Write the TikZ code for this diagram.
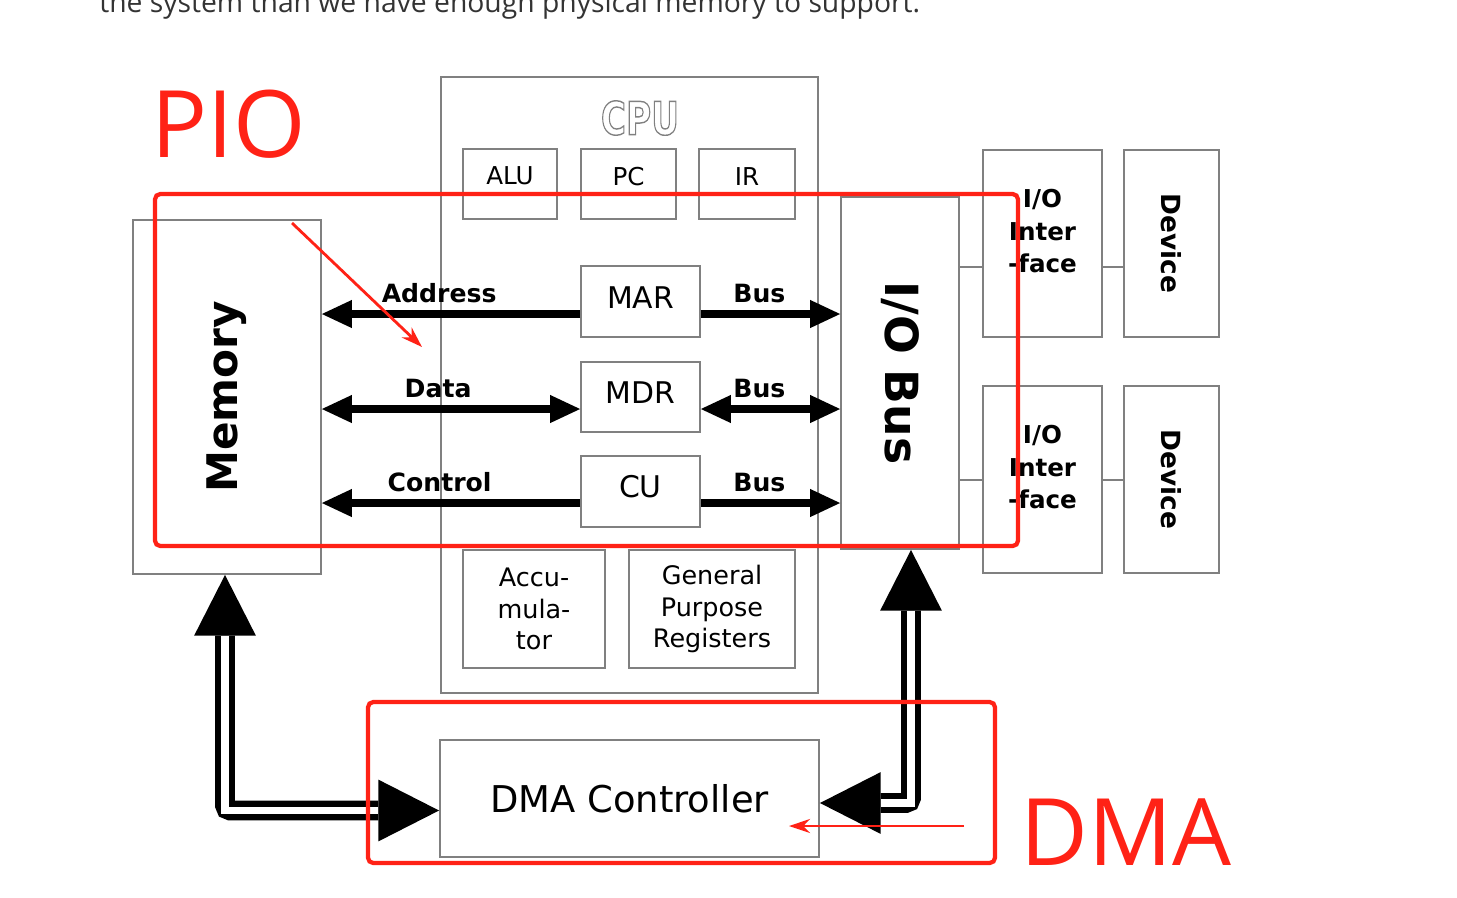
\documentclass[tikz,border=0pt]{standalone}
\usepackage{fontspec}
\usepackage{graphicx}
\usepackage{xcolor}
\usetikzlibrary{arrows.meta,calc}
\setmainfont{DejaVu Sans}
\newfontfamily\annfont{Open Sans}
\definecolor{boxgray}{HTML}{808080}
\definecolor{markred}{HTML}{FF2216}
\definecolor{introgray}{HTML}{333333}
\tikzset{
  box/.style={draw=boxgray, line width=1.1pt, inner sep=0pt, align=center},
  link/.style={draw=boxgray, line width=1.1pt},
  bigtip/.tip={Triangle[length=34.6pt, width=35.2pt, line width=0pt]},
  bustip/.tip={Triangle[length=17pt, width=16pt, line width=0pt]},
}
\begin{document}
\begin{tikzpicture}[x=0.02cm, y=-0.02cm,
    regfont/.style={font=\fontsize{17}{20}\selectfont},
    smallfont/.style={font=\fontsize{14.5}{17.9}\selectfont},
    bus/.style={line width=4.5pt, -{bustip}},
    busboth/.style={line width=4.5pt, {bustip}-{bustip}},
    buslbl/.style={font=\bfseries\fontsize{14.3}{16}\selectfont, anchor=base, inner sep=0pt, yshift=6.8pt},
    dblline/.style={line width=11.3pt, rounded corners=3pt, {bigtip}-{bigtip}},
    dblgap/.style={line width=4.5pt, white, shorten <=34.6pt, shorten >=34.6pt},
    redbox/.style={draw=markred, line width=2.4pt, rounded corners=3pt},
    redarrow/.style={markred, line width=1.6pt, -{Stealth[length=12pt, width=8pt]}},
    redtxt/.style={text=markred, inner sep=0pt, font=\annfont\fontsize{53}{60}\selectfont}]
  \useasboundingbox (0,0) rectangle (1457,897);
  \clip (0,0) rectangle (1457,897);
  \fill[white] (0,0) rectangle (1457,897);
			%   %   %   %   %   %   %   %   %   %   %
			%   Text above the figure
				\node[anchor=base west, inner sep=0pt, text=introgray, font=\annfont\fontsize{16.1}{19}\selectfont] (intro) at (99,12)
				{the system than we have enough physical memory to support.};
			%   %   %   %   %   %   %   %   %   %   %
			%   Memory
				\node[box, minimum width=3.76cm, minimum height=7.08cm,
				label={[rotate=90, font=\bfseries\fontsize{24}{28}\selectfont]center:Memory}] (mem) at (227,397) {};
			%   %   %   %   %   %   %   %   %   %   %
			%   CPU
				\node[box, minimum width=7.54cm, minimum height=12.32cm] (cpu) at (629.5,385) {};
				\node[text=boxgray, font=\bfseries\fontsize{26}{30}\selectfont] (cpulbl) at (640,118)
				{\scalebox{0.75}[1]{\special{pdf:code 1 Tr 0.8 w}CPU\special{pdf:code 0 Tr}}};
				\node[box, minimum width=1.88cm, minimum height=1.4cm, label={[font=\fontsize{14}{16}\selectfont, yshift=4.5pt]center:ALU}] (alu) at (510,184) {};
				\node[box, minimum width=1.9cm, minimum height=1.4cm, label={[font=\fontsize{14}{16}\selectfont, yshift=4.5pt]center:PC}] (pc) at (628.5,184) {};
				\node[box, minimum width=1.92cm, minimum height=1.4cm, label={[font=\fontsize{14}{16}\selectfont, yshift=4.5pt]center:IR}] (ir) at (747,184) {};
				\node[box, minimum width=2.38cm, minimum height=1.42cm, label={[regfont, yshift=2.5pt]center:MAR}] (mar) at (640.5,301.5) {};
				\node[box, minimum width=2.38cm, minimum height=1.4cm, label={[regfont, yshift=2.5pt]center:MDR}] (mdr) at (640.5,397) {};
				\node[box, minimum width=2.38cm, minimum height=1.42cm, label={[regfont, yshift=2.5pt]center:CU}] (cu) at (640.5,491.5) {};
				\node[box, smallfont, minimum width=2.84cm, minimum height=2.36cm] (acc) at (534,609) {Accu-\\mula-\\tor};
				\node[box, smallfont, minimum width=3.32cm, minimum height=2.36cm] (gpr) at (712,609) {General\\Purpose\\Registers};
			%   %   %   %   %   %   %   %   %   %   %
			%   I/O Bus, interfaces, devices
				\node[box, minimum width=2.36cm, minimum height=7.04cm,
				label={[rotate=-90, font=\bfseries\fontsize{26}{30}\selectfont]center:I/O Bus}] (iobus) at (900,373) {};
				\foreach \k/\yc in {1/243.5, 2/479.5}{
				\node[box, minimum width=2.38cm, minimum height=3.74cm,
				label={[align=center, font=\bfseries\fontsize{14}{18.4}\selectfont, yshift=7pt]center:{I/O\\Inter\\-face}}] (if\k) at (1042.5,\yc) {};
				\node[box, minimum width=1.9cm, minimum height=3.74cm,
				label={[rotate=-90, font=\bfseries\fontsize{15}{18}\selectfont]center:Device}] (dev\k) at (1171.5,\yc) {};
				}
				\coordinate (ifa) at ($(if1.west)+(0,23.5)$);
				\coordinate (ifb) at ($(if2.west)+(0,0.5)$);
				\draw[link] (ifa -| iobus.east) -- (ifa);
				\draw[link] (ifb -| iobus.east) -- (ifb);
				\draw[link] (ifa -| if1.east) -- (ifa -| dev1.west);
				\draw[link] (ifb -| if2.east) -- (ifb -| dev2.west);
			%   %   %   %   %   %   %   %   %   %   %
			%   DMA controller
				\node[box, font=\fontsize{21}{25}\selectfont, minimum width=7.58cm, minimum height=2.34cm] (dma) at (629.5,798.5) {DMA Controller};
			%   %   %   %   %   %   %   %   %   %   %
			%   Buses: Memory <-> registers -> I/O Bus
				\coordinate (marL) at ($(mar.west)+(0,12.5)$);
				\coordinate (mdrL) at ($(mdr.west)+(0,12)$);
				\coordinate (cuL) at ($(cu.west)+(0,11.5)$);
				\draw[bus] (marL) -- (marL -| mem.east) node[buslbl, pos=0.546] (addrlbl) {Address};
				\draw[busboth] (mdrL) -- (mdrL -| mem.east) node[buslbl, pos=0.55] (datalbl) {Data};
				\draw[bus] (cuL) -- (cuL -| mem.east) node[buslbl, pos=0.544] (ctrllbl) {Control};
				\draw[bus] (marL -| mar.east) -- (marL -| iobus.west) node[buslbl, pos=0.42] (buslbla) {Bus};
				\draw[busboth] (mdrL -| mdr.east) -- (mdrL -| iobus.west) node[buslbl, pos=0.42] (buslblb) {Bus};
				\draw[bus] (cuL -| cu.east) -- (cuL -| iobus.west) node[buslbl, pos=0.42] (buslblc) {Bus};
			%   %   %   %   %   %   %   %   %   %   %
			%   DMA <-> Memory, DMA <-> I/O Bus
				\coordinate (memdn) at ($(mem.south)+(-2,0)$);
				\coordinate (dmain) at ($(dma.west)+(0,12)$);
				\coordinate (iodn) at ($(iobus.south)+(11,0)$);
				\coordinate (dmaout) at ($(dma.east)+(0,4.5)$);
				\draw[dblline] (memdn) |- (dmain);
				\draw[dblgap] (memdn) |- (dmain);
				\draw[dblline] (iodn) |- (dmaout);
				\draw[dblgap] (iodn) |- (dmaout);
			%   %   %   %   %   %   %   %   %   %   %
			%   Red marks
				\draw[redbox] (155,194) rectangle (1018,546);
				\draw[redbox] (368,702) rectangle (995,863);
				\node[redtxt] (pio) at (229,124) {PIO};
				\node[redtxt] (dmatxt) at (1126,832) {DMA};
				\coordinate (pioa) at (292,223);
				\coordinate (piob) at (422,347);
				\coordinate (dmaa) at (964,826);
				\coordinate (dmab) at (789,826);
				\draw[redarrow] (pioa) -- (piob);
				\draw[redarrow] (dmaa) -- (dmab);
\end{tikzpicture}
\end{document}
